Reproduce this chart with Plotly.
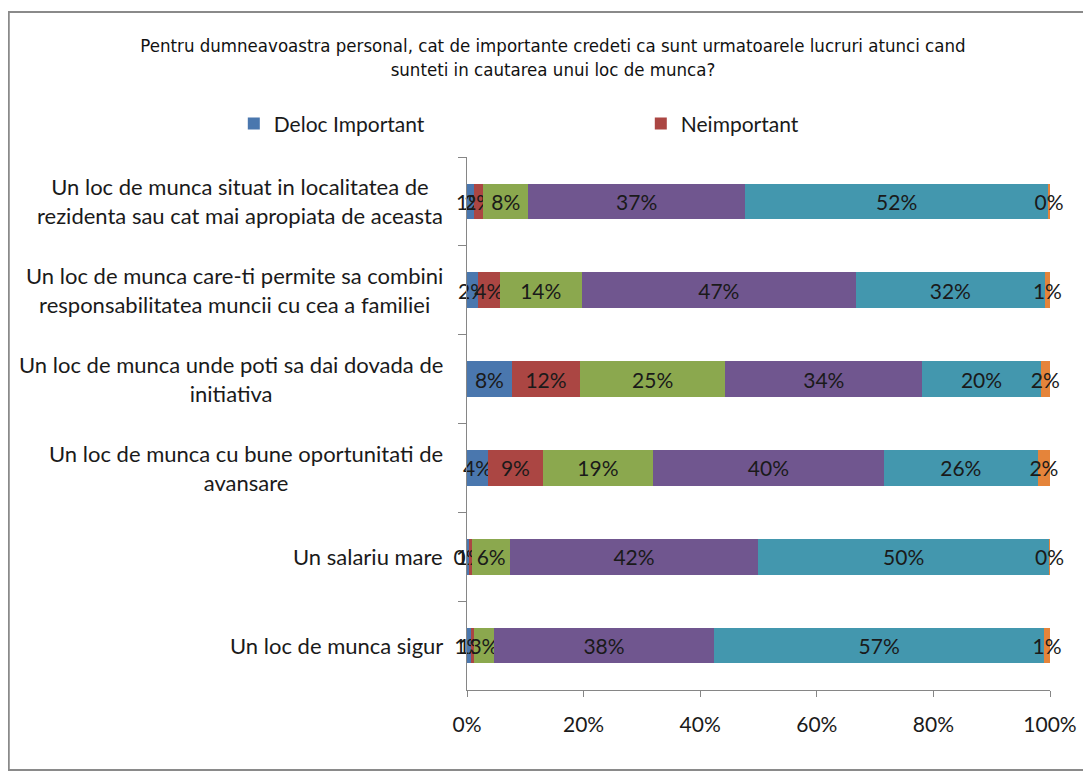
import plotly.graph_objects as go

categories = [
    "Un loc de munca situat in localitatea de<br>rezidenta sau cat mai apropiata de aceasta",
    "Un loc de munca care-ti permite sa combini<br>responsabilitatea muncii cu cea a familiei",
    "Un loc de munca unde poti sa dai dovada de<br>initiativa",
    "Un loc de munca cu bune oportunitati de<br>avansare",
    "Un salariu mare",
    "Un loc de munca sigur",
]

series_names = ["Deloc Important", "Neimportant", "Putin Important", "Important", "Foarte Important", "NS/NR"]
deloc_important = [1.2, 1.9, 7.7, 3.6, 0.3, 0.6]
neimportant = [1.6, 3.7, 11.7, 9.4, 0.6, 0.6]
putin_important = [7.7, 14.1, 24.9, 18.9, 6.5, 3.4]
important = [37.2, 47.0, 33.8, 39.6, 42.5, 37.8]
foarte_important = [52.0, 32.4, 20.3, 26.4, 50.0, 56.6]
ns_nr = [0.3, 0.9, 1.6, 2.1, 0.1, 1.0]

series_values = [deloc_important, neimportant, putin_important, important, foarte_important, ns_nr]
colors = ["#4A77AE", "#AB4643", "#8BA84E", "#70568F", "#4397AE", "#E5843A"]
legend_shown = [True, True, False, False, False, False]

x_ticks = [0, 20, 40, 60, 80, 100]
x_tick_labels = ["0%", "20%", "40%", "60%", "80%", "100%"]

FONT = "Lato, Calibri, Carlito, sans-serif"
TITLE_FONT = "Liberation Sans Narrow, DejaVu Sans Condensed, sans-serif"
TEXT_COLOR = "#1a1a1a"

fig = go.Figure()
for name, vals, col, show in zip(series_names, series_values, colors, legend_shown):
    fig.add_trace(go.Bar(
        name=name,
        y=categories,
        x=vals,
        orientation="h",
        marker=dict(color=col, line=dict(width=0)),
        text=[f"{v:.0f}%" for v in vals],
        textposition="inside",
        insidetextanchor="middle",
        textangle=0,
        cliponaxis=False,
        textfont=dict(family=FONT, size=21, color=TEXT_COLOR),
        showlegend=show,
    ))

for cat in categories:
    fig.add_annotation(
        x=0, xref="paper", xanchor="right", xshift=-22,
        y=cat, yref="y", yanchor="middle",
        text=cat, showarrow=False, align="center",
        font=dict(family=FONT, size=22, color=TEXT_COLOR),
    )

fig.add_shape(
    type="rect", xref="paper", yref="paper",
    x0=-0.786, x1=1.09, y0=-0.150, y1=1.272,
    line=dict(color="#8a8a8a", width=2), fillcolor="rgba(0,0,0,0)",
)

fig.update_layout(
    width=1091, height=774,
    barmode="stack",
    bargap=0.6,
    paper_bgcolor="white",
    plot_bgcolor="white",
    margin=dict(l=459, r=49, t=149, b=92),
    title=dict(
        text="Pentru dumneavoastra personal, cat de importante credeti ca sunt urmatoarele lucruri atunci cand<br>sunteti in cautarea unui loc de munca?",
        x=0.4995, xanchor="center", y=0.943, yanchor="middle",
        font=dict(family=TITLE_FONT, size=18.5, color="#111111"),
    ),
    legend=dict(
        orientation="h", traceorder="normal",
        x=-0.40, xanchor="left", y=1.062, yanchor="middle",
        entrywidth=362, entrywidthmode="pixels",
        font=dict(family=FONT, size=21, color=TEXT_COLOR),
        bgcolor="rgba(0,0,0,0)",
    ),
    uniformtext=dict(minsize=21, mode="show"),
    xaxis=dict(
        range=[0, 100], tickvals=x_ticks, ticktext=x_tick_labels,
        showgrid=False, zeroline=False,
        showline=True, linecolor="#868686", linewidth=1,
        ticks="outside", ticklen=6, tickcolor="#868686",
        ticklabelstandoff=10,
        tickfont=dict(family=FONT, size=21, color=TEXT_COLOR),
        fixedrange=True,
    ),
    yaxis=dict(
        autorange="reversed",
        showticklabels=False,
        showgrid=False, zeroline=False,
        showline=True, linecolor="#868686", linewidth=1,
        ticks="outside", tickson="boundaries", ticklen=8, tickcolor="#868686",
        fixedrange=True,
    ),
)

fig.write_html("out.html")
